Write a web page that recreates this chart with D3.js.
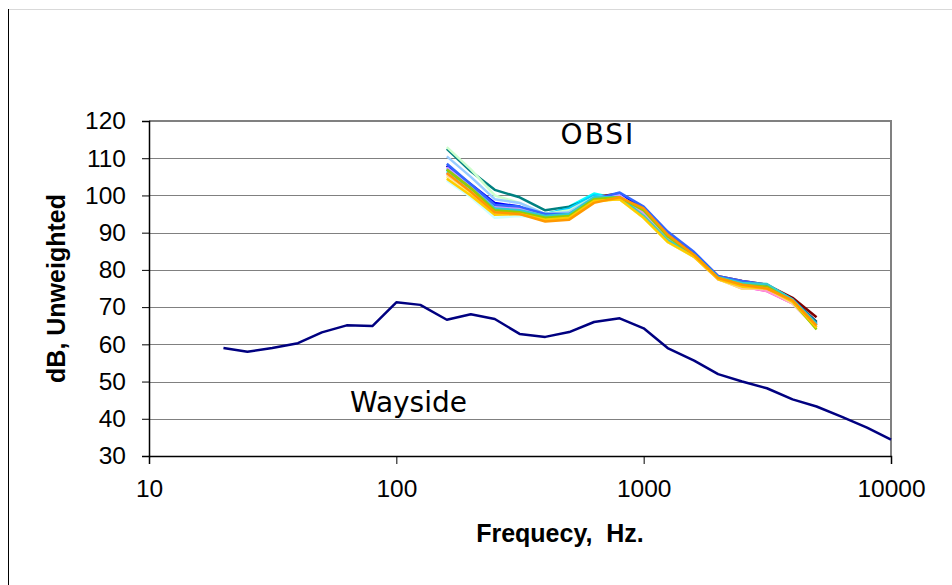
<!DOCTYPE html>
<html><head><meta charset="utf-8">
<script src="https://cdn.jsdelivr.net/npm/d3@7"></script>
<style>body{margin:0;background:#fff}svg{display:block}</style>
</head><body>
<svg id="c" width="952" height="585"></svg>
<script>
const waysideFreqs = [20,25,31.5,40,50,63,80,100,125,160,200,250,315,400,500,630,800,1000,1250,1600,2000,2500,3150,4000,5000,6300,8000,10000];
const waysideValues = [59,58,59,60.3,63.2,65.1,64.9,71.3,70.6,66.6,68.1,66.8,62.8,62,63.3,66,67,64.3,59,55.6,52,50,48.2,45.2,43.3,40.6,37.6,34.4];
const obsiFreqs = [160,200,250,315,400,500,630,800,1000,1250,1600,2000,2500,3150,4000,5000];
const obsiColors = ["#FF00FF","#FFFF00","#00FFFF","#800080","#800000","#008080","#0000FF","#00CCFF","#CCFFFF","#CCFFCC","#FFFF99","#99CCFF","#FF99CC","#CC99FF","#FFCC99","#3366FF","#33CCCC","#99CC00","#FFCC00","#FF9900"];
const obsi01 = [106,101,96,95.5,94,94.5,98.5,99.5,94,88,83.5,77.5,75.5,74.3,71,64.5];
const obsi02 = [105,100.5,95,95,93.5,94,98.5,99,94,87.5,83.5,77.5,75,75,71.5,65];
const obsi03 = [106.5,101.5,96,96,94.5,97,100.5,99,94.5,88,84,78,76,75.5,71.5,65];
const obsi04 = [107,102,97,96.5,94.5,95,99,100,94.5,88,84,78,76.5,75.5,72,66];
const obsi05 = [108,102.5,97.5,96.5,94.5,95.5,99.5,100.5,96,89,84.5,78.3,77,76,72.5,67.3];
const obsi06 = [112.5,106.5,101.5,99.5,96,97,99.5,100,94.5,88.5,84,78,76.5,76,72,66];
const obsi07 = [108,103,98,97,94,94.5,99,100.5,96.5,89.5,84.5,78,76.5,75.5,72,65.5];
const obsi08 = [107,102,97,96.5,95,96.5,100,99.5,94.5,88,84,78,76,75,71.5,65];
const obsi09 = [104,99.5,94,94.5,94,95,99,99,94,87.5,83.5,77.5,75.5,75,71,64.5];
const obsi10 = [113,107,100,98,95,96,99.5,99.5,94.5,88,84,78,76,75.5,71.5,65];
const obsi11 = [105,100,95,95,94,95,99,99,94,87.5,83.5,77.5,75.5,75,71,64.5];
const obsi12 = [110.5,105,99,98,95,95.5,99.5,100,95,88.5,84,78,76,75.5,71.5,65];
const obsi13 = [106,101,95,95,94,94.5,98.5,99.5,95,88.5,84,77.5,75.5,74.3,71,65];
const obsi14 = [107.5,102.5,97,96.5,94.5,95,99,100,95.5,89,84,78,76,75,71.5,65];
const obsi15 = [105.5,101,96,95.5,94,95,99,99,94.5,88,83.5,77.5,75,75,71,64.5];
const obsi16 = [108.5,103,97.5,97,95,95,99,100.8,97,90.3,84.8,78.3,77,76,72,65.5];
const obsi17 = [107,102,96.5,96,94.5,95,99.5,99.5,94.5,88,84,78,76.5,76.2,72,65.5];
const obsi18 = [107,102,96,95.5,94,94.5,99,99.5,96,89,84,77.8,76,75.5,71.5,64];
const obsi19 = [104.5,100,94.8,95,93.5,94,98.5,99,94,87.5,83.5,77.5,75.5,75,71.5,64.5];
const obsi20 = [106,101,95.5,95,93,93.5,98,99.5,96.5,89.5,84,77.8,76,75,71.8,65];
const obsiSeries = [obsi01,obsi02,obsi03,obsi04,obsi05,obsi06,obsi07,obsi08,obsi09,obsi10,obsi11,obsi12,obsi13,obsi14,obsi15,obsi16,obsi17,obsi18,obsi19,obsi20];
const xTicks = [10,100,1000,10000];
const yTicks = [30,40,50,60,70,80,90,100,110,120];

const svg = d3.select("#c");
const L=149, R=891, T=121, B=456;
const x = d3.scaleLog().domain([10,10000]).range([L,R]);
const y = d3.scaleLinear().domain([30,120]).range([B,T]);

// outer frame
svg.append("line").attr("x1",8).attr("x2",952).attr("y1",9.5).attr("y2",9.5).attr("stroke","#d9d9d9");
svg.append("line").attr("x1",8.5).attr("x2",8.5).attr("y1",9).attr("y2",585).attr("stroke","#000");

// gridlines
svg.append("g").selectAll("line").data(yTicks.filter(d=>d>30&&d<120)).join("line")
  .attr("x1",L).attr("x2",R).attr("y1",d=>Math.round(y(d))+0.5).attr("y2",d=>Math.round(y(d))+0.5)
  .attr("stroke","#808080").attr("stroke-width",1);

// border top/right
svg.append("path").attr("d",`M${L},${T} H${R} V${B}`).attr("fill","none").attr("stroke","#808080").attr("stroke-width",2);

// axes
const yAxis = d3.axisLeft(y).tickValues(yTicks).tickSize(7).tickPadding(16).tickFormat(d3.format("d"));
const gy = svg.append("g").attr("transform",`translate(${L},0)`).call(yAxis);
const xAxis = d3.axisBottom(x).tickValues(xTicks).tickSize(8).tickPadding(6).tickFormat(d3.format("d"));
const gx = svg.append("g").attr("transform",`translate(0,${B})`).call(xAxis);
[gx,gy].forEach(g=>{
  g.select(".domain").attr("stroke","#000").attr("stroke-width",1.5);
  g.selectAll(".tick line").attr("stroke","#000");
  g.selectAll(".tick text").attr("fill","#000").attr("font-family","Arial, 'Liberation Sans', sans-serif").attr("font-size","24.5px");
});
gx.selectAll(".tick text").attr("y",41).attr("dy",null);

// lines
const line = d3.line().x(d=>x(d[0])).y(d=>y(d[1]));
svg.append("path").datum(waysideFreqs.map((f,i)=>[f,waysideValues[i]]))
  .attr("d",line).attr("fill","none").attr("stroke","#000080").attr("stroke-width",2.5).attr("stroke-linejoin","round");
svg.append("g").selectAll("path").data(obsiSeries).join("path")
  .attr("d",s=>line(obsiFreqs.map((f,i)=>[f,s[i]])))
  .attr("fill","none").attr("stroke",(s,i)=>obsiColors[i]).attr("stroke-width",2.5).attr("stroke-linejoin","round");

// labels
svg.append("text").attr("x",598).attr("y",144).attr("text-anchor","middle").attr("letter-spacing","2px")
  .attr("font-family","Verdana, 'DejaVu Sans', sans-serif").attr("font-size","28px").text("OBSI");
svg.append("text").attr("x",350).attr("y",412)
  .attr("font-family","Verdana, 'DejaVu Sans', sans-serif").attr("font-size","28px").text("Wayside");
svg.append("text").attr("x",560).attr("y",542).attr("text-anchor","middle").attr("font-weight","bold")
  .attr("font-family","Arial, 'Liberation Sans', sans-serif").attr("font-size","25px").attr("xml:space","preserve").style("white-space","pre").text("Frequecy,  Hz.");
svg.append("text").attr("transform",`translate(65,${(T+B)/2}) rotate(-90)`).attr("text-anchor","middle").attr("font-weight","bold")
  .attr("font-family","Arial, 'Liberation Sans', sans-serif").attr("font-size","25px").text("dB, Unweighted");
</script>
</body></html>
